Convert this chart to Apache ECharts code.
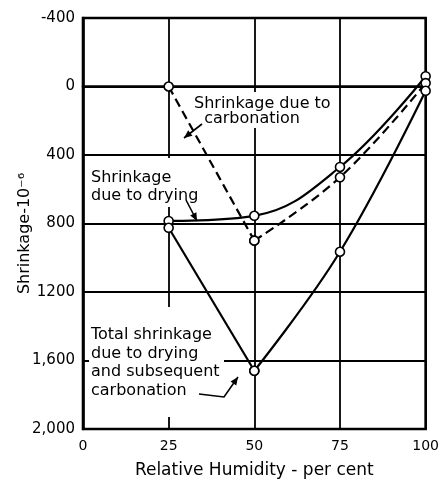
<!DOCTYPE html>
<html><head><meta charset="utf-8">
<script src="https://cdn.jsdelivr.net/npm/echarts@6/dist/echarts.min.js"></script>
<style>html,body{margin:0;padding:0;background:#fff}#c{width:442px;height:484px}</style>
</head><body><div id="c"></div>
<script>
// ---- data ----
const humidity = [25, 50, 75, 100];
const dryingShrinkage = [785, 755, 470, -60];
const carbonationShrinkage = [0, 900, 530, -20];
const totalShrinkage = [825, 1660, 965, 25];
const xTickLabels = ['0', '25', '50', '75', '100'];
const yTickValues = [-400, 0, 400, 800, 1200, 1600, 2000];
const yTickLabels = ['-400', '0', '400', '800', '1200', '1,600', '2,000'];

const FONT = '"DejaVu Sans", sans-serif';
function seg(ys, a, b) {
  return humidity.slice(a, b).map((x, i) => [x, ys.slice(a, b)[i]]);
}
const marker = {
  symbol: 'circle', symbolSize: 9,
  itemStyle: { color: '#fff', borderColor: '#000', borderWidth: 1.6 }
};
function lineSeries(name, data, smooth, dashed) {
  return Object.assign({
    type: 'line', name, data, smooth,
    lineStyle: { color: '#000', width: 2.2, type: dashed ? [9, 5] : 'solid' },
    z: 3, animation: false, silent: true
  }, marker);
}

function arrowHead(p0, p1, len, wid) {
  const dx = p1[0] - p0[0], dy = p1[1] - p0[1], d = Math.hypot(dx, dy);
  const ux = dx / d, uy = dy / d;
  const bx = p1[0] - ux * len, by = p1[1] - uy * len;
  return [[p1[0], p1[1]], [bx - uy * wid, by + ux * wid], [bx + uy * wid, by - ux * wid]];
}
function arrow(points) {
  const n = points.length;
  return [
    { type: 'polyline', shape: { points }, style: { stroke: '#000', lineWidth: 1.6, fill: null }, z: 4 },
    { type: 'polygon', shape: { points: arrowHead(points[n - 2], points[n - 1], 8, 3.5) }, style: { fill: '#000' }, z: 4 }
  ];
}
function label(text, x, y, lh) {
  return { type: 'text', z: 4, style: { text, x, y, font: '16px ' + FONT, fill: '#000', lineHeight: lh, align: 'left', verticalAlign: 'top' } };
}
function box(x, y, w, h) {
  return { type: 'rect', z: 1, shape: { x, y, width: w, height: h }, style: { fill: '#fff' } };
}

const chart = echarts.init(document.getElementById('c'), null, { renderer: 'canvas' });
chart.setOption({
  backgroundColor: '#fff',
  animation: false,
  grid: { left: 83, right: 16, top: 18, bottom: 54, show: true, borderColor: '#000', borderWidth: 2.6, backgroundColor: 'transparent' },
  xAxis: {
    type: 'value', min: 0, max: 100, interval: 25,
    name: 'Relative Humidity - per cent', nameLocation: 'middle', nameGap: 33,
    nameTextStyle: { fontFamily: FONT, fontSize: 17, color: '#000' },
    axisLine: { show: true, lineStyle: { color: '#000', width: 2.6 } },
    axisTick: { show: false },
    axisLabel: { fontFamily: FONT, fontSize: 14, color: '#000', margin: 10,
      formatter: v => xTickLabels[Math.round(v / 25)] },
    splitLine: { show: true, lineStyle: { color: '#000', width: 1.8 } }
  },
  yAxis: {
    type: 'value', min: -400, max: 2000, interval: 400, inverse: true,
    name: 'Shrinkage-10⁻⁶', nameLocation: 'middle', nameGap: 50, nameMoveOverlap: false,
    nameTextStyle: { fontFamily: FONT, fontSize: 16, color: '#000', padding: [0, 20, 0, 0] },
    axisLine: { show: true, lineStyle: { color: '#000', width: 2.6 } },
    axisTick: { show: false },
    axisLabel: { fontFamily: FONT, fontSize: 15, color: '#000', margin: 8,
      formatter: v => yTickLabels[yTickValues.indexOf(v)] },
    splitLine: { show: true, lineStyle: { color: '#000', width: 1.8 } }
  },
  series: [
    lineSeries('Shrinkage due to drying', seg(dryingShrinkage, 0, 4), 0.4, false),
    lineSeries('Shrinkage due to carbonation', seg(carbonationShrinkage, 0, 2), false, true),
    lineSeries('Shrinkage due to carbonation', seg(carbonationShrinkage, 1, 4), 0.4, true),
    lineSeries('Total shrinkage', seg(totalShrinkage, 0, 2), false, false),
    lineSeries('Total shrinkage', seg(totalShrinkage, 1, 4), 0.4, false)
  ],
  graphic: { elements: [
    box(190, 92, 146, 36),
    box(89, 158, 110, 49),
    box(89, 307, 135, 110),
    label('Shrinkage due to\n  carbonation', 194, 96, 15),
    label('Shrinkage\ndue to drying', 91, 169, 18),
    label('Total shrinkage\ndue to drying\nand subsequent\ncarbonation', 91, 326, 18.5)
  ].concat(
    arrow([[202, 124], [184, 138]]),
    arrow([[186, 200], [197, 221]]),
    arrow([[199, 394], [224, 397], [238, 377]])
  ) }
});
</script>
</body></html>
